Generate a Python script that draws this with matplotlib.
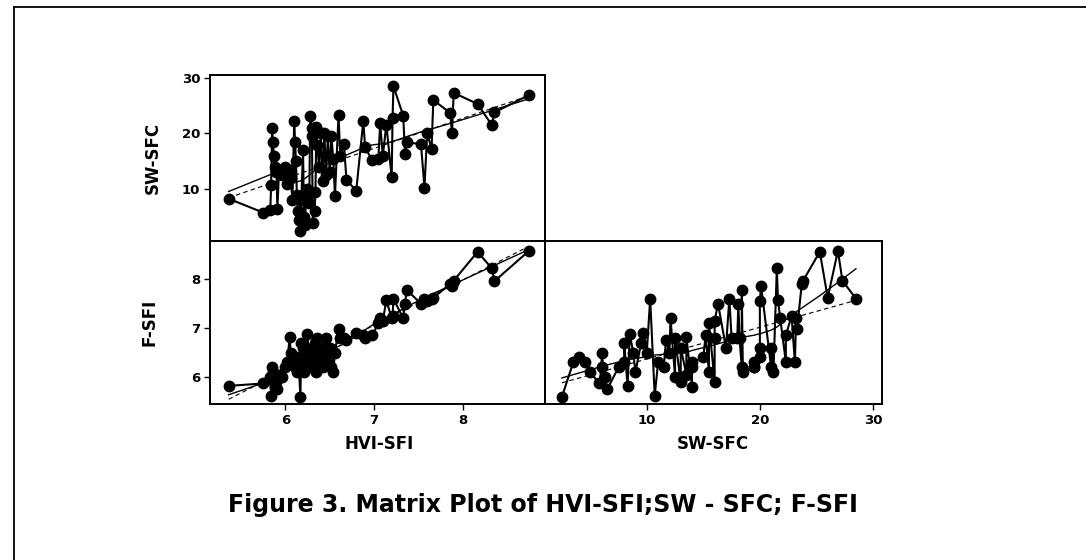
import numpy as np
import matplotlib
matplotlib.use("Agg")
import matplotlib.pyplot as plt
from matplotlib.lines import Line2D

# Próbki: HVI-SFI, SW-SFC, F-SFI
hviSfi = [5.36, 5.75, 5.83, 5.84, 5.85, 5.86, 5.87, 5.88, 5.90, 5.91,
          5.93, 5.96, 6.00, 6.02, 6.05, 6.06, 6.08, 6.10, 6.11, 6.12,
          6.13, 6.14, 6.15, 6.17, 6.18, 6.20, 6.21, 6.22, 6.24, 6.25,
          6.27, 6.28, 6.30, 6.30, 6.31, 6.33, 6.34, 6.35, 6.36, 6.38,
          6.40, 6.42, 6.44, 6.46, 6.48, 6.50, 6.52, 6.54, 6.56, 6.60,
          6.62, 6.66, 6.69, 6.80, 6.88, 6.90, 6.98, 7.05, 7.07, 7.10,
          7.14, 7.20, 7.21, 7.22, 7.33, 7.35, 7.37, 7.53, 7.57, 7.60,
          7.65, 7.67, 7.86, 7.88, 7.90, 8.17, 8.33, 8.36, 8.75]
swSfc = [8.3, 5.8, 6.3, 10.7, 21.0, 18.5, 16.0, 14.0, 13.0, 6.5,
         13.5, 12.5, 14.0, 11.0, 13.5, 12.0, 8.0, 22.3, 18.4, 15.0,
         9.0, 6.0, 4.5, 2.5, 8.0, 17.0, 5.0, 3.5, 10.0, 8.5,
         7.5, 23.1, 21.0, 19.5, 4.0, 6.0, 9.5, 21.2, 18.0, 14.0,
         20.0, 11.5, 20.0, 12.5, 19.5, 13.0, 19.5, 15.5, 8.8, 23.3,
         16.0, 18.2, 11.7, 9.7, 22.3, 17.5, 15.2, 15.5, 21.8, 16.0,
         21.6, 12.1, 22.8, 28.5, 23.2, 16.3, 18.4, 18.1, 10.3, 20.0,
         17.3, 26.0, 23.7, 20.1, 27.3, 25.3, 21.5, 23.8, 26.9]
fSfi = [5.82, 5.87, 6.00, 5.62, 6.20, 6.10, 5.90, 5.80, 5.90, 5.75,
        6.05, 6.00, 6.20, 6.30, 6.82, 6.50, 6.30, 6.30, 6.20, 6.40,
        6.10, 6.20, 6.30, 5.60, 6.70, 6.60, 6.10, 6.30, 6.50, 6.88,
        6.20, 6.30, 6.60, 6.20, 6.40, 6.50, 6.70, 6.10, 6.80, 6.30,
        6.60, 6.20, 6.40, 6.80, 6.30, 6.60, 6.20, 6.10, 6.50, 6.99,
        6.80, 6.80, 6.75, 6.90, 6.85, 6.80, 6.85, 7.10, 7.20, 7.15,
        7.57, 7.20, 7.25, 7.60, 7.20, 7.50, 7.78, 7.50, 7.60, 7.55,
        7.60, 7.62, 7.90, 7.87, 7.97, 8.56, 8.22, 7.96, 8.58]

hviTicks = [6, 7, 8]
swTicks = [10, 20, 30]
fTicks = [6, 7, 8]


def lowess(x, y, frac=0.5):
    # prosty lokalnie liniowy wygładzacz z wagami tricube
    kolejnosc = np.argsort(x, kind="stable")
    xs, ys = x[kolejnosc], y[kolejnosc]
    n = len(xs)
    k = int(np.ceil(frac * n))
    wynik = np.empty(n)
    for i, x0 in enumerate(xs):
        d = np.abs(xs - x0)
        h = np.sort(d)[k - 1]
        w = np.clip(1 - (d / h) ** 3, 0, None) ** 3
        A = np.vstack([np.ones(n), xs - x0]).T
        Aw = A.T * w
        beta = np.linalg.solve(Aw @ A, Aw @ ys)
        wynik[i] = beta[0]
    return xs, wynik


def rysujPanel(ax, x, y):
    kolejnosc = np.argsort(x, kind="stable")
    ax.plot(x[kolejnosc], y[kolejnosc], color="black", lw=1.5,
            marker="o", markersize=7.5, zorder=3)
    xs, gladkie = lowess(x, y)
    ax.plot(xs, gladkie, color="black", lw=1.0, zorder=4)
    a, b = np.polyfit(x, y, 1)
    siatka = np.linspace(x.min(), x.max(), 50)
    ax.plot(siatka, a * siatka + b, color="black", lw=0.8,
            linestyle=(0, (4, 3)), zorder=4)


def ustawOsie(ax):
    for s in ax.spines.values():
        s.set_linewidth(1.4)
    ax.tick_params(direction="out", length=4, width=1, labelsize=9.5, pad=3)
    for lab in ax.get_xticklabels() + ax.get_yticklabels():
        lab.set_fontweight("bold")


hvi = np.array(hviSfi)
sw = np.array(swSfc)
f = np.array(fSfi)

fig = plt.figure(figsize=(10.86, 5.6), dpi=100)

lewaX, lewaW = 210 / 1086, 335 / 1086
prawaX, prawaW = 545 / 1086, 337 / 1086
goraY, goraH = 1 - 241 / 560, 166 / 560
dolY, dolH = 1 - 404 / 560, 163 / 560

axGora = fig.add_axes([lewaX, goraY, lewaW, goraH])
axDolL = fig.add_axes([lewaX, dolY, lewaW, dolH])
axDolP = fig.add_axes([prawaX, dolY, prawaW, dolH])

rysujPanel(axGora, hvi, sw)
rysujPanel(axDolL, hvi, f)
rysujPanel(axDolP, sw, f)

axGora.set_xlim(5.15, 8.93)
axGora.set_ylim(0.7, 30.5)
axGora.set_xticks([])
axGora.set_yticks(swTicks)

axDolL.set_xlim(5.15, 8.93)
axDolL.set_ylim(5.45, 8.78)
axDolL.set_xticks(hviTicks)
axDolL.set_yticks(fTicks)

axDolP.set_xlim(1.0, 30.8)
axDolP.set_ylim(5.45, 8.78)
axDolP.set_xticks(swTicks)
axDolP.set_yticks([])

for ax in (axGora, axDolL, axDolP):
    ustawOsie(ax)

fig.text(379 / 1086, 1 - 444 / 560, "HVI-SFI", ha="center", va="center",
         fontsize=12, fontweight="bold")
fig.text(713 / 1086, 1 - 444 / 560, "SW-SFC", ha="center", va="center",
         fontsize=12, fontweight="bold")
fig.text(153 / 1086, 1 - 158 / 560, "SW-SFC", ha="center", va="center",
         fontsize=12, fontweight="bold", rotation=90)
fig.text(150 / 1086, 1 - 322 / 560, "F-SFI", ha="center", va="center",
         fontsize=12, fontweight="bold", rotation=90)

fig.text(543 / 1086, 1 - 505 / 560,
         "Figure 3. Matrix Plot of HVI-SFI;SW - SFC; F-SFI",
         ha="center", va="center", fontsize=17, fontweight="bold")

# ramka zeskanowanej strony (góra i lewa krawędź)
fig.add_artist(Line2D([14 / 1086, 1.0], [1 - 7 / 560, 1 - 7 / 560],
                      color="black", lw=1.3))
fig.add_artist(Line2D([14 / 1086, 14 / 1086], [1 - 7 / 560, 0.0],
                      color="black", lw=1.3))

fig.savefig("out.png", dpi=100)
